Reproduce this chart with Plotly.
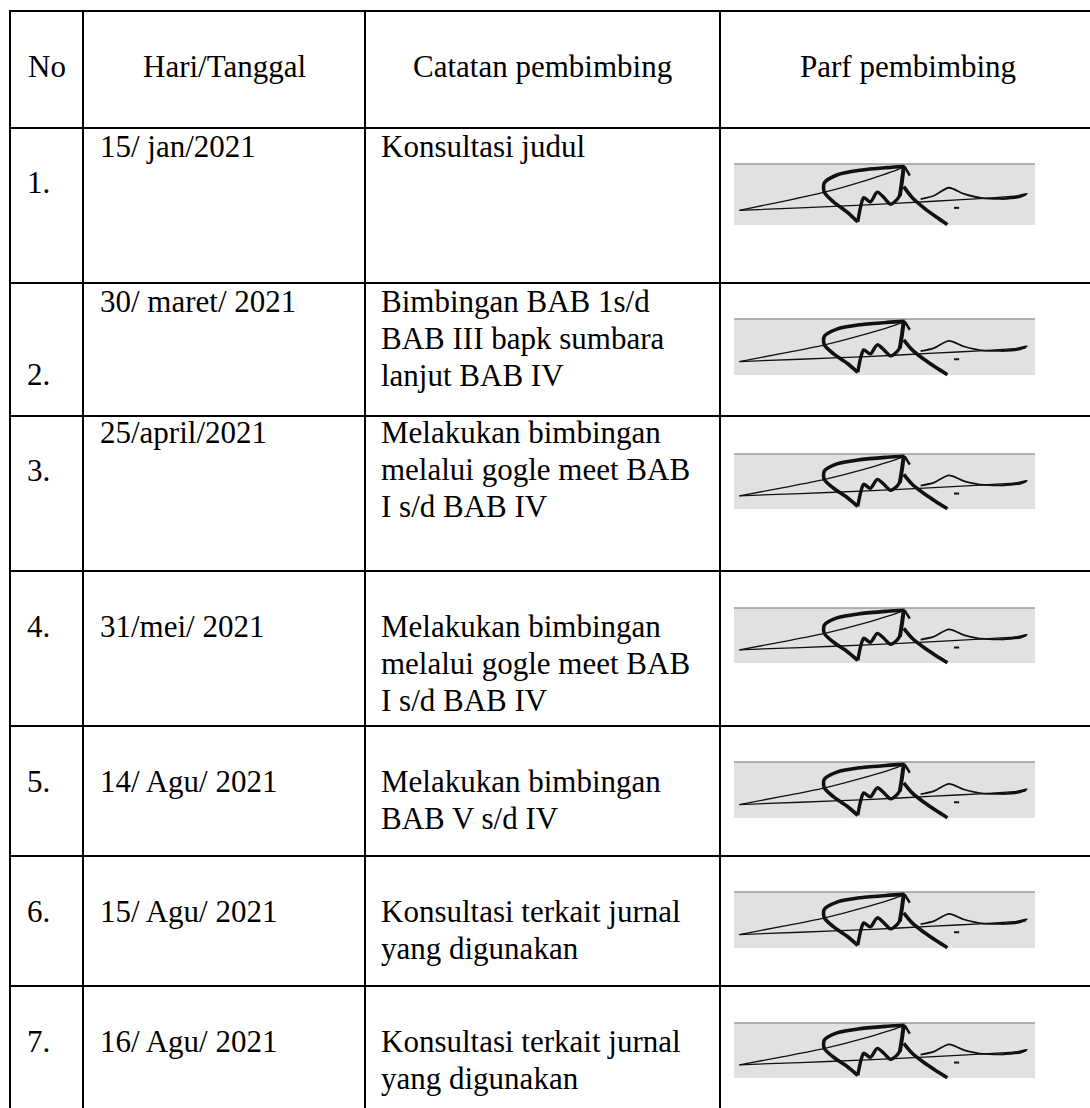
import plotly.graph_objects as go

# ---------------- data ----------------
headers = ["No", "Hari/Tanggal", "Catatan pembimbing", "Parf pembimbing"]
nomor = ["1.", "2.", "3.", "4.", "5.", "6.", "7."]
tanggal = ["15/ jan/2021", "30/ maret/ 2021", "25/april/2021", "31/mei/ 2021",
           "14/ Agu/ 2021", "15/ Agu/ 2021", "16/ Agu/ 2021"]
catatan = [
    ["Konsultasi judul"],
    ["Bimbingan BAB 1s/d", "BAB III bapk sumbara", "lanjut BAB IV"],
    ["Melakukan bimbingan", "melalui gogle meet BAB", "I s/d BAB IV"],
    ["Melakukan bimbingan", "melalui gogle meet BAB", "I s/d BAB IV"],
    ["Melakukan bimbingan", "BAB V s/d IV"],
    ["Konsultasi terkait jurnal", "yang digunakan"],
    ["Konsultasi terkait jurnal", "yang digunakan"],
]

# ---------------- layout (pixel units) ----------------
W, H = 1090, 1108
col_x = [10, 83, 365, 720, 1096]
row_y = [11, 128, 283, 416, 571, 726, 856, 986, 1130]
no_base = [193, 385, 481, 637, 792, 922, 1052]
date_base = [157, 312, 443, 637, 792, 922, 1052]
line_gap = 37
sig_top = [164, 319, 454, 608, 762, 892, 1023]
sig_h = [61, 56, 55, 55, 56, 56, 55]
sig_x0, sig_x1 = 734, 1035
FS = 31
FONT = "Liberation Serif"
BASE_OFF = 0.3375 * FS

# signature strokes in box-relative units (u across, v down), width
sig_strokes = [
    ([(.018, .760), (.164, .611), (.298, .467), (.431, .281), (.553, .072), (.567, .036)], 1.3),
    ([(.018, .760), (.220, .719), (.442, .671), (.664, .611), (.831, .563), (.970, .515)], 1.3),
    ([(.620, .575), (.664, .521), (.714, .389), (.764, .491), (.831, .563), (.920, .551),
      (.973, .485), (.953, .539), (.887, .575)], 1.8),
    ([(.567, .042), (.509, .060), (.420, .102), (.342, .180), (.300, .311), (.300, .461),
      (.331, .623), (.376, .790), (.411, .952)], 3.6),
    ([(.411, .952), (.422, .671), (.431, .551), (.453, .623), (.476, .461), (.498, .551),
      (.520, .659), (.542, .581), (.553, .491)], 3.4),
    ([(.551, .521), (.558, .281), (.564, .042)], 4.0),
    ([(.567, .042), (.584, .192)], 2.5),
    ([(.564, .371), (.592, .551), (.631, .719), (.670, .862), (.709, .994)], 3.6),
    ([(.731, .719), (.748, .719)], 2.0),
]

fig = go.Figure()
shapes = []
annotations = []

# table grid
for y in row_y:
    shapes.append(dict(type="line", xref="x", yref="y", x0=col_x[0] - 1, x1=col_x[-1],
                       y0=y, y1=y, line=dict(color="black", width=2), layer="above"))
for x in col_x:
    shapes.append(dict(type="line", xref="x", yref="y", x0=x, x1=x,
                       y0=row_y[0] - 1, y1=row_y[-1], line=dict(color="black", width=2),
                       layer="above"))

def txt(x, y_base, s, anchor="left"):
    annotations.append(dict(x=x, y=y_base - BASE_OFF, xref="x", yref="y", text=s,
                            showarrow=False, xanchor=anchor, yanchor="middle",
                            font=dict(family=FONT, size=FS, color="black")))

# headers (centered in columns)
for i, h in enumerate(headers):
    txt((col_x[i] + col_x[i + 1]) / 2, 77, h, anchor="center")

for r in range(len(nomor)):
    txt(25, no_base[r], nomor[r])
    txt(98, date_base[r], tanggal[r])
    for k, line in enumerate(catatan[r]):
        txt(379, date_base[r] + k * line_gap, line)
    # signature box
    y0 = sig_top[r]
    y1 = y0 + sig_h[r]
    shapes.append(dict(type="rect", xref="x", yref="y", x0=sig_x0, x1=sig_x1, y0=y0, y1=y1,
                       fillcolor="#e1e1e1", line=dict(width=0), layer="below"))
    shapes.append(dict(type="line", xref="x", yref="y", x0=sig_x0, x1=sig_x1, y0=y0, y1=y0,
                       line=dict(color="#9a9a9a", width=1.5), layer="below"))
    bw = sig_x1 - sig_x0
    bh = y1 - y0
    for pts, wdt in sig_strokes:
        fig.add_trace(go.Scatter(
            x=[sig_x0 + u * bw for u, v in pts],
            y=[y0 + v * bh for u, v in pts],
            mode="lines", line=dict(color="#111111", width=wdt, shape="spline", smoothing=0.8),
            hoverinfo="skip", showlegend=False))

fig.update_layout(
    width=W, height=H, margin=dict(l=0, r=0, t=0, b=0),
    paper_bgcolor="white", plot_bgcolor="white",
    shapes=shapes, annotations=annotations, showlegend=False,
    xaxis=dict(range=[0, W], visible=False, fixedrange=True),
    yaxis=dict(range=[H, 0], visible=False, fixedrange=True),
)

fig.write_html("out.html", config={"displayModeBar": False},
               post_script="document.body.style.margin='0';document.body.style.overflow='hidden';")
